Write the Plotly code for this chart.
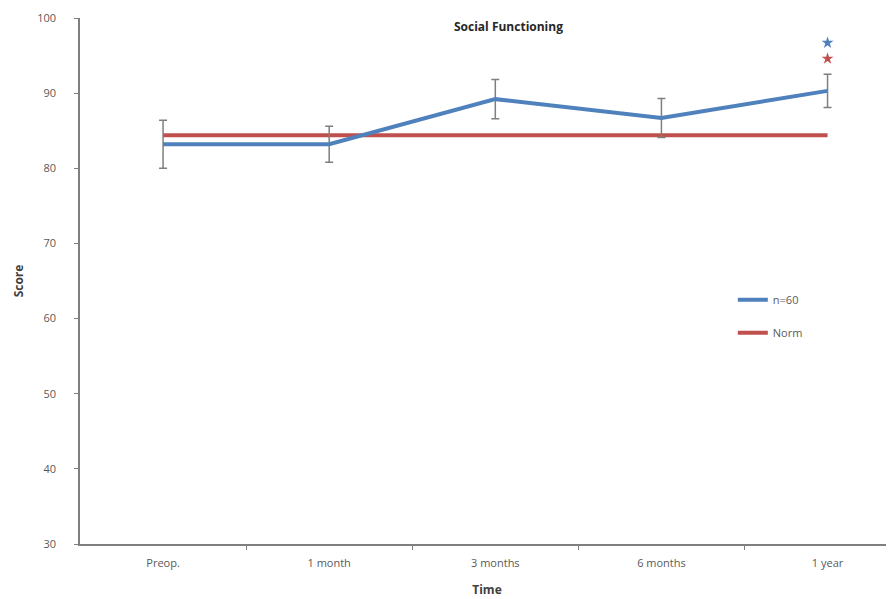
import plotly.graph_objects as go

categories = ["Preop.", "1 month", "3 months", "6 months", "1 year"]
n60_values = [83.2, 83.2, 89.2, 86.7, 90.3]
n60_errors = [3.2, 2.4, 2.6, 2.6, 2.2]
norm_values = [84.4, 84.4, 84.4, 84.4, 84.4]
star_blue = 96.7
star_red = 94.6
y_ticks = [30, 40, 50, 60, 70, 80, 90, 100]

xpos = list(range(len(categories)))
grey = "#595959"
font_fam = "Open Sans, Liberation Sans, sans-serif"

fig = go.Figure()
fig.add_trace(go.Scatter(
    x=xpos, y=norm_values, mode="lines", name="Norm", legendrank=2,
    legendgroup="norm",
    line=dict(color="#C0504D", width=4)))
fig.add_trace(go.Scatter(
    x=xpos, y=n60_values, mode="lines", name="n=60", legendrank=1,
    legendgroup="n60",
    line=dict(color="#4F81BD", width=4),
    error_y=dict(type="data", array=n60_errors, visible=True,
                 color="#7F7F7F", thickness=1.5, width=4)))
fig.add_trace(go.Scatter(
    x=[xpos[-1]], y=[star_blue], mode="markers", showlegend=False,
    marker=dict(symbol="star", size=9, color="#4F81BD")))
fig.add_trace(go.Scatter(
    x=[xpos[-1]], y=[star_red], mode="markers", showlegend=False,
    marker=dict(symbol="star", size=9, color="#C0504D")))

fig.update_layout(
    width=886, height=590,
    margin=dict(l=72, r=0, t=10, b=54),
    plot_bgcolor="white", paper_bgcolor="white",
    font=dict(family=font_fam, size=11, color=grey),
    showlegend=True,
    legend=dict(x=0.802, y=0.492, xanchor="left", yanchor="top",
                traceorder="grouped", tracegroupgap=14,
                font=dict(size=11, color=grey), bgcolor="rgba(0,0,0,0)"),
    xaxis=dict(range=[-0.5, 4.4], tickvals=xpos, ticktext=categories,
               ticks="", showgrid=False, zeroline=False,
               showline=True, linecolor="#7F7F7F", linewidth=1.5,
               tickfont=dict(size=11, color=grey), ticklabelstandoff=8,
               title=dict(text="<b>Time</b>", font=dict(size=12, color="#404040"), standoff=18),
               minor=dict(tickvals=[0.5, 1.5, 2.5, 3.5], ticks="outside",
                          ticklen=4, tickcolor="#7F7F7F", showgrid=False)),
    yaxis=dict(range=[30, 100], tickvals=y_ticks, ticks="outside",
               ticklen=4, tickcolor="#7F7F7F", showgrid=False, zeroline=False,
               showline=True, linecolor="#7F7F7F", linewidth=1.5,
               tickfont=dict(size=11, color=grey), ticklabelstandoff=16,
               title=dict(text="<b>Score</b>", font=dict(size=12, color="#404040"), standoff=11)),
    annotations=[dict(text="<b>Social Functioning</b>",
                      x=(508 - 80) / 814, y=1 - (26 - 18) / 526,
                      xref="paper", yref="paper", showarrow=False,
                      xanchor="center", yanchor="middle",
                      font=dict(size=12, color="#262626"))],
)

fig.write_html("out.html")
